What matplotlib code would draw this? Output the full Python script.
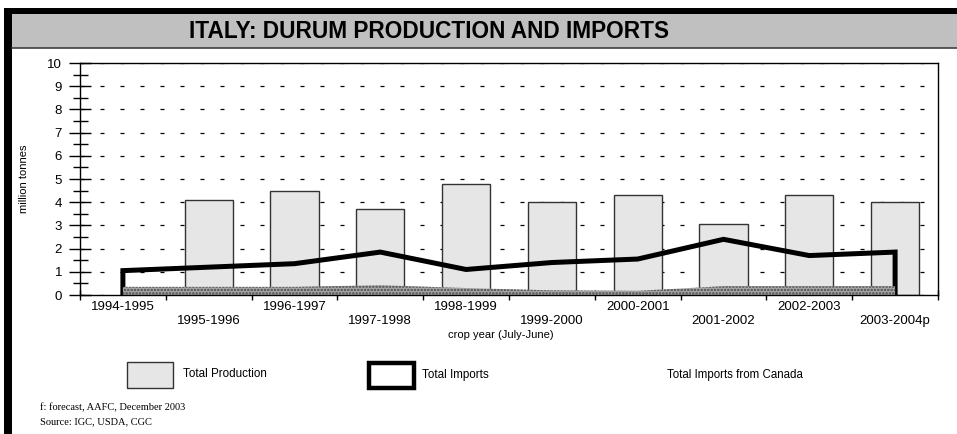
import numpy as np
import matplotlib
matplotlib.use("Agg")
import matplotlib.pyplot as plt
from matplotlib.patches import Rectangle
from matplotlib.lines import Line2D

plt.rcParams['font.family'] = ['Liberation Sans', 'DejaVu Sans']
plt.rcParams['hatch.linewidth'] = 1.2

# crop years and values (million tonnes)
years = ['1994-1995', '1995-1996', '1996-1997', '1997-1998', '1998-1999',
         '1999-2000', '2000-2001', '2001-2002', '2002-2003', '2003-2004p']
production = [np.nan, 4.1, 4.5, 3.7, 4.8, 4.0, 4.3, 3.05, 4.3, 4.0]
imports = [1.05, 1.2, 1.35, 1.85, 1.1, 1.4, 1.55, 2.4, 1.7, 1.85]
imports_canada = [0.35, 0.35, 0.35, 0.42, 0.3, 0.2, 0.18, 0.38, 0.38, 0.38]

W, H = 957, 434
fig = plt.figure(figsize=(W / 100, H / 100), dpi=100)

def fx(px):
    return px / W

def fy(py):
    return 1 - py / H

# frame decorations: black border, grey title band
fig.patches.append(Rectangle((fx(4), fy(14)), fx(953), 6 / H, transform=fig.transFigure,
                             facecolor='black', edgecolor='none'))
fig.patches.append(Rectangle((fx(4), 0), fx(8), fy(8), transform=fig.transFigure,
                             facecolor='black', edgecolor='none'))
fig.patches.append(Rectangle((fx(12), fy(48)), fx(945), 34 / H, transform=fig.transFigure,
                             facecolor='#c0c0c0', edgecolor='none'))
fig.lines.append(Line2D([fx(12), 1], [fy(48), fy(48)], transform=fig.transFigure,
                        color='#404040', lw=1.2))
fig.text(fx(429), fy(31), 'ITALY: DURUM PRODUCTION AND IMPORTS', ha='center', va='center',
         fontsize=16.3, fontweight='bold')

ax = fig.add_axes([fx(80), fy(295), fx(858), 232 / H])
x = np.arange(len(years))

ax.bar(x, production, width=0.56, color='#e6e6e6', edgecolor='#333333', linewidth=1.0, zorder=2)
ax.fill_between(x, imports, 0, facecolor='none', edgecolor='black', linewidth=3.6,
                joinstyle='miter', zorder=3)
ax.fill_between(x, imports_canada, 0, facecolor='#a6a6a6', edgecolor='#4a4a4a', hatch='.....',
                linewidth=0, zorder=4)

ax.set_xlim(-0.5, len(years) - 0.5)
ax.set_ylim(0, 10)

ax.set_yticks(np.arange(0, 11, 1))
ax.set_yticks(np.arange(0.5, 10, 1), minor=True)
ax.tick_params(axis='y', which='major', direction='inout', length=15.8, width=1.0,
               labelsize=9.5, pad=5)
ax.tick_params(axis='y', which='minor', direction='inout', length=10.8, width=1.0)

ax.set_xticks(np.arange(-0.5, len(years), 1))
ax.set_xticklabels([])
ax.set_xticks(x, [y if i % 2 == 0 else '\n' + y for i, y in enumerate(years)], minor=True)
ax.tick_params(axis='x', which='major', direction='inout', length=7, width=1.0)
ax.tick_params(axis='x', which='minor', length=0, labelsize=9.5, pad=4)
for lab in ax.get_xticklabels(minor=True):
    lab.set_linespacing(1.3)

ax.yaxis.grid(True, which='major', color='black', linewidth=0.9, linestyle=(0, (3.2, 12.8)))
ax.set_axisbelow(True)
for s in ax.spines.values():
    s.set_linewidth(1.0)
    s.set_zorder(5)

ax.set_ylabel('million tonnes', fontsize=8)
ax.yaxis.set_label_coords(-0.059, 0.5)
ax.set_xlabel('crop year (July-June)', fontsize=8, va='center')
ax.xaxis.set_label_coords(0.49, -0.172)

# legend drawn by hand as in the original
fig.patches.append(Rectangle((fx(127), fy(388)), fx(46), 26 / H, transform=fig.transFigure,
                             facecolor='#e6e6e6', edgecolor='#333333', linewidth=1.0))
fig.patches.append(Rectangle((fx(369.3), fy(387.8)), fx(44.5), 24.5 / H, transform=fig.transFigure,
                             facecolor='white', edgecolor='black', linewidth=3.2, joinstyle='miter'))
fig.text(fx(183), fy(374), 'Total Production', va='center', fontsize=8.4)
fig.text(fx(422), fy(375), 'Total Imports', va='center', fontsize=8.4)
fig.text(fx(667), fy(375), 'Total Imports from Canada', va='center', fontsize=8.3)

fig.text(fx(40), fy(408), 'f: forecast, AAFC, December 2003', va='center', fontsize=7.5,
         family='Liberation Serif')
fig.text(fx(40), fy(422), 'Source: IGC, USDA, CGC', va='center', fontsize=7.5,
         family='Liberation Serif')

fig.savefig('out.png', dpi=100)
